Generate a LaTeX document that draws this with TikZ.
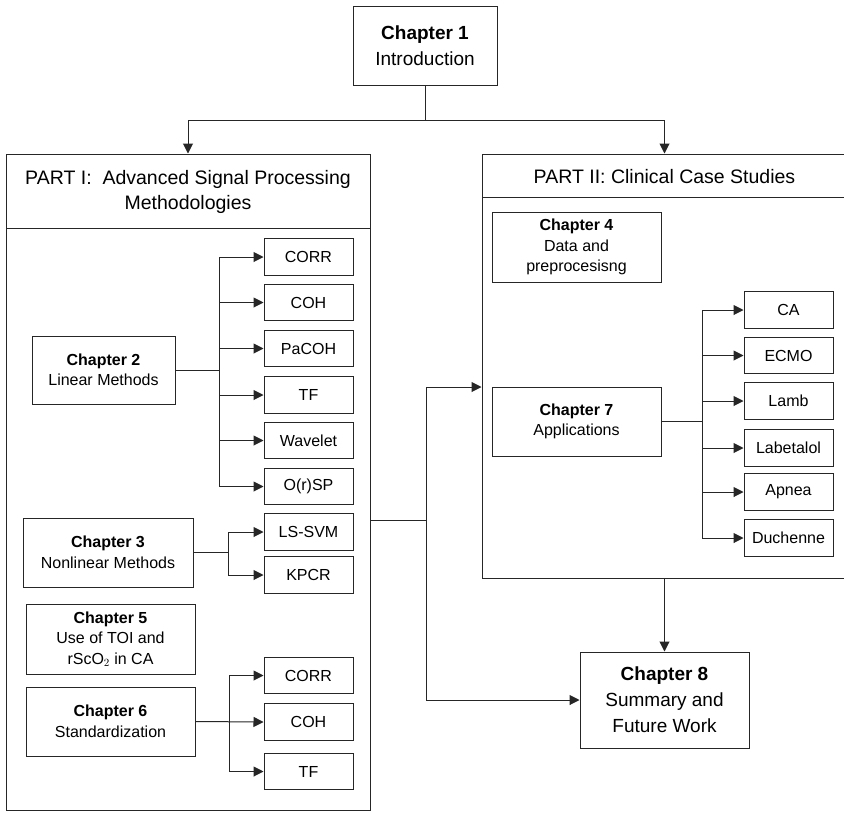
\documentclass[tikz,border=0pt]{standalone}
\usepackage{fontspec}
\setmainfont{Liberation Sans}
\usetikzlibrary{arrows.meta}
\tikzset{
  ln/.style={draw=black!85, line width=1pt},
  box/.style={draw=black!85, line width=1pt, rectangle, inner sep=0pt, align=center, text=black},
  chap/.style={box, minimum width=169pt, minimum height=69pt, font=\fontsize{16}{20.5}\selectfont},
  leaf/.style={box, minimum width=89pt, minimum height=36.5pt, font=\fontsize{16}{19}\selectfont},
  big/.style={box, font=\fontsize{19}{26}\selectfont},
  part/.style={draw=black!85, line width=1pt, rectangle, inner sep=0pt},
  head/.style={inner sep=0pt, align=center, font=\fontsize{19.5}{25.5}\selectfont},
  arr/.style={ln, -{Triangle[length=10pt,width=10pt]}},
}
\begin{document}
\begin{tikzpicture}[x=1pt,y=-1pt]
\useasboundingbox (0,0) rectangle (844,812);
\clip (0,0) rectangle (844,812);
\fill[white] (0,0) rectangle (844,812);

% Chapter 1
\node[big, minimum width=144pt, minimum height=79pt] (ch1) at (425,45.5) {\textbf{Chapter 1}\\Introduction};

% Parts
\node[part, minimum width=364pt, minimum height=656pt] (p1) at (188,482) {};
\draw[ln] (6,228) -- (370,228);
\node[head] (p1h) at (188,192) {PART I:\ \ Advanced Signal Processing\\Methodologies};

\node[part, minimum width=365pt, minimum height=424pt] (p2) at (664.5,366) {};
\draw[ln] (482,197) -- (847,197);
\node[head] (p2h) at (664.5,177) {PART II: Clinical Case Studies};

% Part I chapters
\node[chap, minimum width=143pt, minimum height=68pt] (ch2) at (103.5,370) {\textbf{Chapter 2}\\Linear Methods};
\node[chap, minimum width=170pt] (ch3) at (108,552.5) {\textbf{Chapter 3}\\Nonlinear Methods};
\node[chap, minimum height=70pt] (ch5) at (110.5,639) {\textbf{Chapter 5}\\Use of TOI and\\rScO$_2$ in CA};
\node[chap] (ch6) at (110.5,721.5) {\textbf{Chapter 6}\\Standardization};

% Part I leaves
\node[leaf] (corr) at (308.5,257) {CORR};
\node[leaf] (coh) at (308.5,302.5) {COH};
\node[leaf] (pacoh) at (308.5,348.5) {PaCOH};
\node[leaf] (tf) at (308.5,395) {TF};
\node[leaf] (wav) at (308.5,440.5) {Wavelet};
\node[leaf] (orsp) at (308.5,486.5) {O(r)SP};
\node[leaf] (lssvm) at (308.5,532) {LS-SVM};
\node[leaf] (kpcr) at (308.5,575) {KPCR};
\node[leaf] (corrb) at (308.5,675.5) {CORR};
\node[leaf] (cohb) at (308.5,722) {COH};
\node[leaf] (tfb) at (308.5,771.5) {TF};

% Part II chapters
\node[chap, minimum height=70pt] (ch4) at (576.5,247) {\textbf{Chapter 4}\\Data and\\preprocesisng};
\node[chap] (ch7) at (576.5,421.5) {\textbf{Chapter 7}\\Applications};

% Part II leaves
\node[leaf] (ca) at (788.5,310) {CA};
\node[leaf] (ecmo) at (788.5,355.5) {ECMO};
\node[leaf] (lamb) at (788.5,401) {Lamb};
\node[leaf] (labe) at (788.5,448) {Labetalol};
\node[leaf] (apnea) at (788.5,492) {Apnea};
\node[leaf] (duch) at (788.5,538) {Duchenne};

% Chapter 8
\node[big, minimum width=169pt, minimum height=96pt] (ch8) at (664.5,700) {\textbf{Chapter 8}\\Summary and\\Future Work};

% Connectors: Chapter 1 to parts
\coordinate (top) at (425,120);
\draw[ln] (ch1.south) -- (top);
\draw[arr] (top) -| (p1.north);
\draw[arr] (top) -| (p2.north);

% Chapter 2 branches
\coordinate (b2) at (219,370);
\draw[ln] (ch2.east) -- (b2);
\draw[ln] (b2 |- corr) -- (b2 |- orsp);
\foreach \n in {corr,coh,pacoh,tf,wav,orsp} \draw[arr] (b2 |- \n) -- (\n.west);

% Chapter 3 branches
\coordinate (b3) at (228,552.5);
\draw[ln] (ch3.east) -- (b3);
\draw[ln] (b3 |- lssvm) -- (b3 |- kpcr);
\foreach \n in {lssvm,kpcr} \draw[arr] (b3 |- \n) -- (\n.west);

% Chapter 6 branches
\coordinate (b6) at (229,721.5);
\draw[arr] (ch6.east) -- (cohb.west);
\draw[ln] (b6 |- corrb) -- (b6 |- tfb);
\foreach \n in {corrb,tfb} \draw[arr] (b6 |- \n) -- (\n.west);

% Chapter 7 branches
\coordinate (b7) at (702,421.5);
\draw[ln] (ch7.east) -- (b7);
\draw[ln] (b7 |- ca) -- (b7 |- duch);
\foreach \n in {ca,ecmo,lamb,labe,apnea,duch} \draw[arr] (b7 |- \n) -- (\n.west);

% Part I to Part II and Chapter 8
\coordinate (j) at (426,520);
\coordinate (jt) at (426,387);
\coordinate (jb) at (426,700);
\draw[ln] (p1.east |- j) -- (j);
\draw[ln] (jt) -- (jb);
\draw[arr] (jt) -- (p2.west |- jt);
\draw[arr] (jb) -- (ch8.west);
\draw[arr] (p2.south) -- (ch8.north);
\end{tikzpicture}
\end{document}
